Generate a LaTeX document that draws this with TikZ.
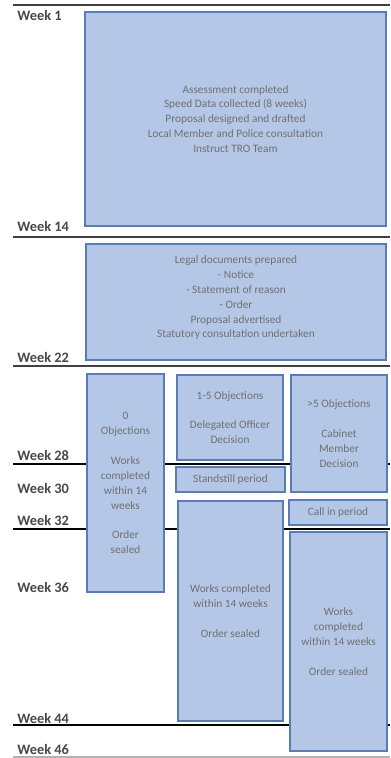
\documentclass[tikz,border=0pt]{standalone}
\usepackage{fontspec}
\setmainfont{Carlito}
\usepackage{tikz}
\usetikzlibrary{positioning}
\definecolor{boxfill}{HTML}{B4C7E7}
\definecolor{boxline}{HTML}{5B7BB4}
\definecolor{boxtext}{HTML}{707070}
\definecolor{weektext}{HTML}{484848}
\tikzstyle{phase} = [draw=boxline, line width=1.1pt, fill=boxfill, text=boxtext, align=center, inner sep=1pt, font=\fontsize{8.5}{11.2}\selectfont]
\tikzstyle{week} = [anchor=base west, text=weektext, inner sep=0pt, font=\fontsize{10.8}{12}\selectfont\bfseries]
\tikzstyle{major} = [line width=1.5pt, color=black!75]
\tikzstyle{minor} = [line width=0.8pt, color=black]

\begin{document}
\begin{tikzpicture}[x=0.75pt,y=-0.75pt]
\useasboundingbox (0,0) rectangle (390,758);
% timeline rules
\draw [major] (13,5) -- (390,5);
\draw [major] (13,237) -- (390,237);
\draw [major] (13,366) -- (390,366);
\draw [minor] (13,464) -- (390,464);
\draw [minor] (13,529) -- (390,529);
\draw [minor] (13,725) -- (390,725);
\draw [line width=0.8pt, color=black!30] (13,757) -- (390,757);
% week labels
\node [week] (w1) at (17,20) {Week 1};
\node [week] (w14) at (17,231) {Week 14};
\node [week] (w22) at (17,362) {Week 22};
\node [week] (w28) at (17,460) {Week 28};
\node [week] (w30) at (17,493) {Week 30};
\node [week] (w32) at (17,525) {Week 32};
\node [week] (w36) at (17,592) {Week 36};
\node [week] (w44) at (17,723) {Week 44};
\node [week] (w46) at (17,754) {Week 46};
% stages
\node [phase, minimum width=225.75pt, minimum height=160.5pt] (assess) at (235.5,119)
  {Assessment completed\\Speed Data collected (8 weeks)\\Proposal designed and drafted\\Local Member and Police consultation\\Instruct TRO Team};
\node [phase, minimum width=225pt, minimum height=87pt, text depth=8pt] (legal) at (236,302)
  {Legal documents prepared\\- Notice\\- Statement of reason\\- Order\\Proposal advertised\\Statutory consultation undertaken};
\node [phase, minimum width=57.75pt, minimum height=163.5pt] (none) at (125.5,483)
  {0\\Objections\\[11pt]Works\\completed\\within 14\\weeks\\[11pt]Order\\sealed};
\node [phase, minimum width=79.5pt, minimum height=63.75pt] (few) at (230,417.5)
  {1-5 Objections\\[11pt]Delegated Officer\\Decision};
\node [phase, minimum width=72pt, minimum height=87.75pt] (many) at (339,433.5)
  {>5 Objections\\[11pt]Cabinet\\Member\\Decision};
\node [phase, minimum width=81.75pt, minimum height=18.75pt] (still) at (230.5,479.5) {Standstill period};
\node [phase, minimum width=73.5pt, minimum height=18.75pt] (callin) at (338,512.5) {Call in period};
\node [phase, minimum width=78.75pt, minimum height=165pt] (fewworks) at (230.5,611)
  {Works completed\\within 14 weeks\\[11pt]Order sealed};
\node [phase, minimum width=72.75pt, minimum height=164.25pt] (manyworks) at (338.5,641.5)
  {Works\\completed\\within 14 weeks\\[11pt]Order sealed};
\end{tikzpicture}
\end{document}
